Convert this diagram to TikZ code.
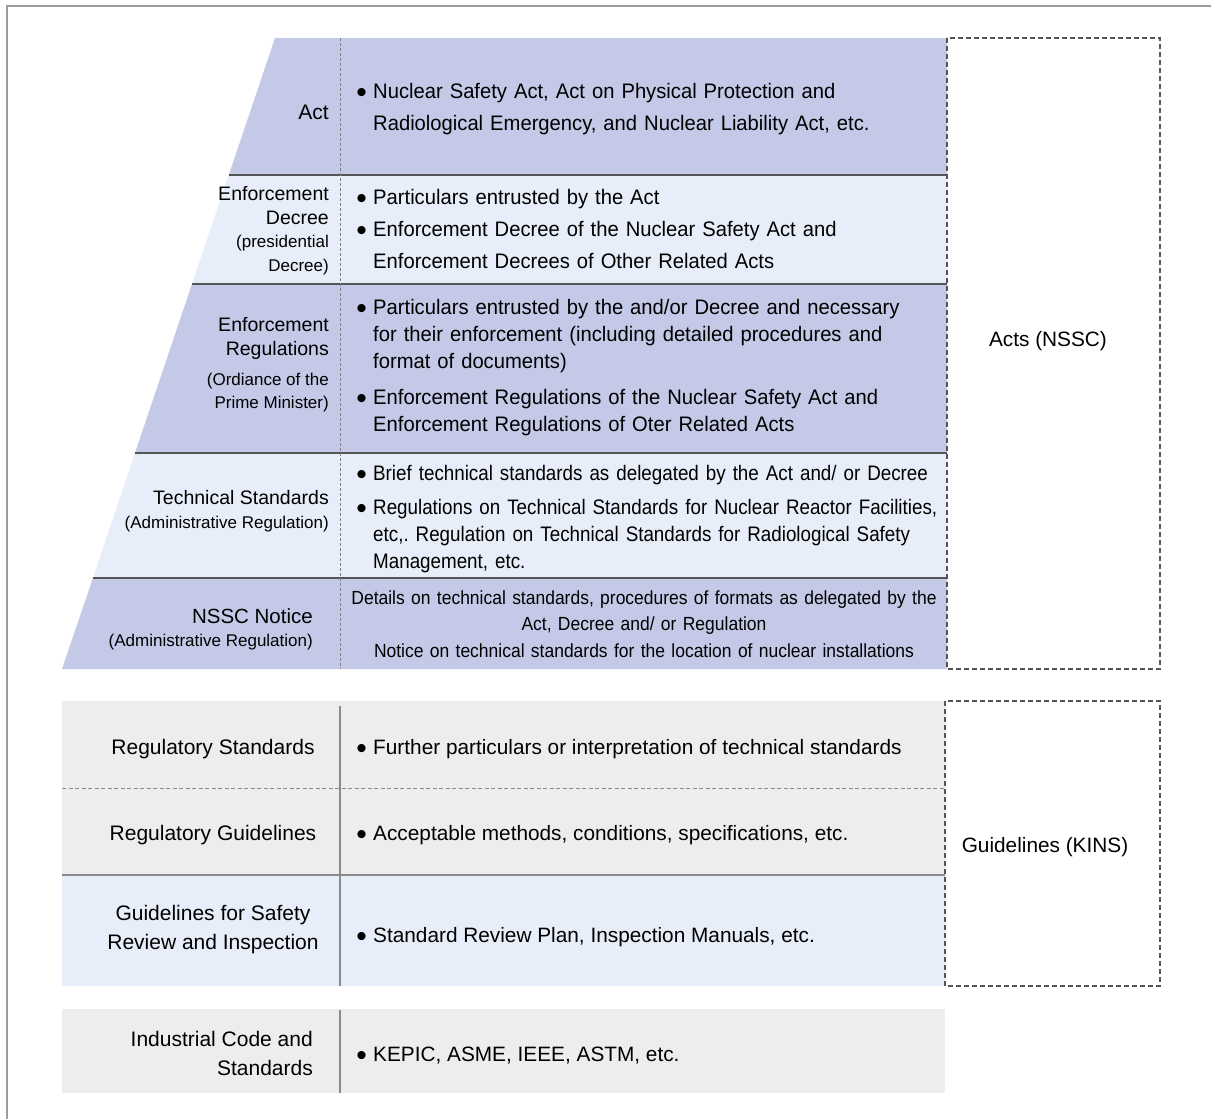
\documentclass[tikz,border=0pt]{standalone}
\usepackage{fontspec}
\setmainfont{Liberation Sans}
\newfontfamily\condfont{Liberation Sans}[FakeStretch=0.962]
\newfontfamily\tightfont{Liberation Sans}[FakeStretch=0.895]
\newfontfamily\notefont{Liberation Sans}[FakeStretch=0.92]
\definecolor{lav}{HTML}{C4C9E7}
\definecolor{pale}{HTML}{E7EEF9}
\definecolor{gry}{HTML}{EDEDED}
\definecolor{rulecol}{HTML}{555555}
\definecolor{midgray}{HTML}{8A8A8A}
\definecolor{framecol}{HTML}{9C9C9C}
\newcommand{\dotmark}{{\fontsize{30}{30}\selectfont\raisebox{-4.5pt}{•}}}
\tikzset{
  lbl/.style={inner sep=0pt, anchor=base east, font=\fontsize{19.5}{24}\selectfont},
  sublbl/.style={inner sep=0pt, anchor=base east, font=\fontsize{17}{24}\selectfont},
  lowlbl/.style={inner sep=0pt, anchor=base, font=\fontsize{21}{24}\selectfont},
  bul/.style={inner sep=0pt, anchor=base},
  item/.style={inner sep=0pt, anchor=base west, text width=590pt, align=left,
    font=\condfont\fontsize{21}{27}\selectfont},
  tightitem/.style={item, font=\tightfont\fontsize{21}{27}\selectfont},
  lowitem/.style={inner sep=0pt, anchor=base west, font=\fontsize{20.8}{27}\selectfont},
  rowrule/.style={draw=rulecol, line width=1.6pt},
  groupbox/.style={draw=rulecol, line width=1.7pt, dash pattern=on 5pt off 3pt},
  grouplbl/.style={inner sep=0pt, anchor=base, font=\fontsize{20.8}{24}\selectfont}
}
\begin{document}
\frenchspacing
\begin{tikzpicture}[x=1pt,y=-1pt]
\useasboundingbox (0,0) rectangle (1211,1119);
\fill[white] (0,0) rectangle (1211,1119);

% outer frame (only its top and left edges fall inside the page)
\draw[framecol, line width=1.5pt] (7,1119) -- (7,6) -- (1211,6);

% ---------- statutory hierarchy (pyramid) ----------
\fill[lav]  (275,38) -- (947,38) -- (947,175) -- (228.8,175) -- cycle;
\fill[pale] (228.8,175) -- (947,175) -- (947,284) -- (192,284) -- cycle;
\fill[lav]  (192,284) -- (947,284) -- (947,453) -- (135,453) -- cycle;
\fill[pale] (135,453) -- (947,453) -- (947,578) -- (93,578) -- cycle;
\fill[lav]  (93,578) -- (947,578) -- (947,669) -- (62,669) -- cycle;

\draw[rowrule] (228.8,175) -- (947,175);
\draw[rowrule] (192,284) -- (947,284);
\draw[rowrule] (135,453) -- (947,453);
\draw[rowrule] (93,578) -- (947,578);
\draw[draw=gray, line width=1pt, dash pattern=on 3pt off 2pt] (340,38) -- (340,669);

% row titles
\node[lbl, font=\fontsize{21}{24}\selectfont] (actL) at (329,119) {Act};
\node[lbl] (decL1) at (329,200) {Enforcement};
\node[lbl] (decL2) at (329,224) {Decree};
\node[sublbl] (decL3) at (329,247) {(presidential};
\node[sublbl] (decL4) at (329,271) {Decree)};
\node[lbl] (regL1) at (329,331) {Enforcement};
\node[lbl] (regL2) at (329,355) {Regulations};
\node[sublbl] (regL3) at (329,385) {(Ordiance of the};
\node[sublbl] (regL4) at (329,408) {Prime Minister)};
\node[lbl] (tecL1) at (329,504) {Technical Standards};
\node[sublbl] (tecL2) at (329,528) {(Administrative Regulation)};
\node[lbl, font=\fontsize{20.5}{24}\selectfont] (notL1) at (313,623) {NSSC Notice};
\node[sublbl] (notL2) at (313,646) {(Administrative Regulation)};

% row contents
\node[bul] (actB1) at (361.5,98) {\dotmark};
\node[item, font=\condfont\fontsize{21}{32}\selectfont] (actT1) at (373,98)
  {Nuclear Safety Act, Act on Physical Protection and\\Radiological Emergency, and Nuclear Liability Act, etc.};

\node[bul] (decB1) at (361.5,204) {\dotmark};
\node[item] (decT1) at (373,204) {Particulars entrusted by the Act};
\node[bul] (decB2) at (361.5,236) {\dotmark};
\node[item, font=\condfont\fontsize{21}{32}\selectfont] (decT2) at (373,236)
  {Enforcement Decree of the Nuclear Safety Act and\\Enforcement Decrees of Other Related Acts};

\node[bul] (regB1) at (361.5,314) {\dotmark};
\node[item] (regT1) at (373,314)
  {Particulars entrusted by the and/or Decree and necessary\\for their enforcement (including detailed procedures and\\format of documents)};
\node[bul] (regB2) at (361.5,404) {\dotmark};
\node[item] (regT2) at (373,404)
  {Enforcement Regulations of the Nuclear Safety Act and\\Enforcement Regulations of Oter Related Acts};

\node[bul] (tecB1) at (361.5,480) {\dotmark};
\node[tightitem] (tecT1) at (373,480)
  {Brief technical standards as delegated by the Act and/ or Decree};
\node[bul] (tecB2) at (361.5,514) {\dotmark};
\node[tightitem] (tecT2) at (373,514)
  {Regulations on Technical Standards for Nuclear Reactor Facilities,\\etc,. Regulation on Technical Standards for Radiological Safety\\Management, etc.};

\node[inner sep=0pt, anchor=base, text width=610pt, align=center,
      font=\notefont\fontsize{19}{26.5}\selectfont] (notT) at (644,604)
  {Details on technical standards, procedures of formats as delegated by the\\Act, Decree and/ or Regulation\\Notice on technical standards for the location of nuclear installations};

% group frame
\draw[groupbox] (947,38) rectangle (1160,669);
\node[grouplbl] (actsG) at (1048,346.5) {Acts (NSSC)};

% ---------- guidelines ----------
\fill[gry]  (62,701) rectangle (945,875);
\fill[pale] (62,875) rectangle (945,986);
\draw[draw=midgray, line width=1pt, dash pattern=on 4pt off 2.5pt] (62,788) -- (945,788);
\draw[draw=midgray, line width=1.8pt] (62,875) -- (945,875);
\draw[draw=midgray, line width=1.2pt] (340,706) -- (340,986);

\node[lowlbl] (rsL) at (213,754) {Regulatory Standards};
\node[lowlbl] (rgL) at (213,840) {Regulatory Guidelines};
\node[lowlbl] (gsL1) at (213,920.5) {Guidelines for Safety};
\node[lowlbl] (gsL2) at (213,949.5) {Review and Inspection};

\node[bul] (rsB) at (361.5,754) {\dotmark};
\node[lowitem] (rsT) at (373,754) {Further particulars or interpretation of technical standards};
\node[bul] (rgB) at (361.5,840) {\dotmark};
\node[lowitem] (rgT) at (373,840) {Acceptable methods, conditions, specifications, etc.};
\node[bul] (gsB) at (361.5,942) {\dotmark};
\node[lowitem] (gsT) at (373,942) {Standard Review Plan, Inspection Manuals, etc.};

\draw[groupbox] (945,701) rectangle (1160,986);
\node[grouplbl] (kinsG) at (1045,852) {Guidelines (KINS)};

% ---------- industrial codes ----------
\fill[gry] (62,1009) rectangle (945,1093);
\draw[draw=midgray, line width=1.2pt] (340,1010) -- (340,1093);
\node[lbl, font=\fontsize{21}{24}\selectfont] (icL1) at (313,1046.5) {Industrial Code and};
\node[lbl, font=\fontsize{21}{24}\selectfont] (icL2) at (313,1075.5) {Standards};
\node[bul] (icB) at (361.5,1061) {\dotmark};
\node[lowitem] (icT) at (373,1061) {KEPIC, ASME, IEEE, ASTM, etc.};
\end{tikzpicture}
\end{document}
